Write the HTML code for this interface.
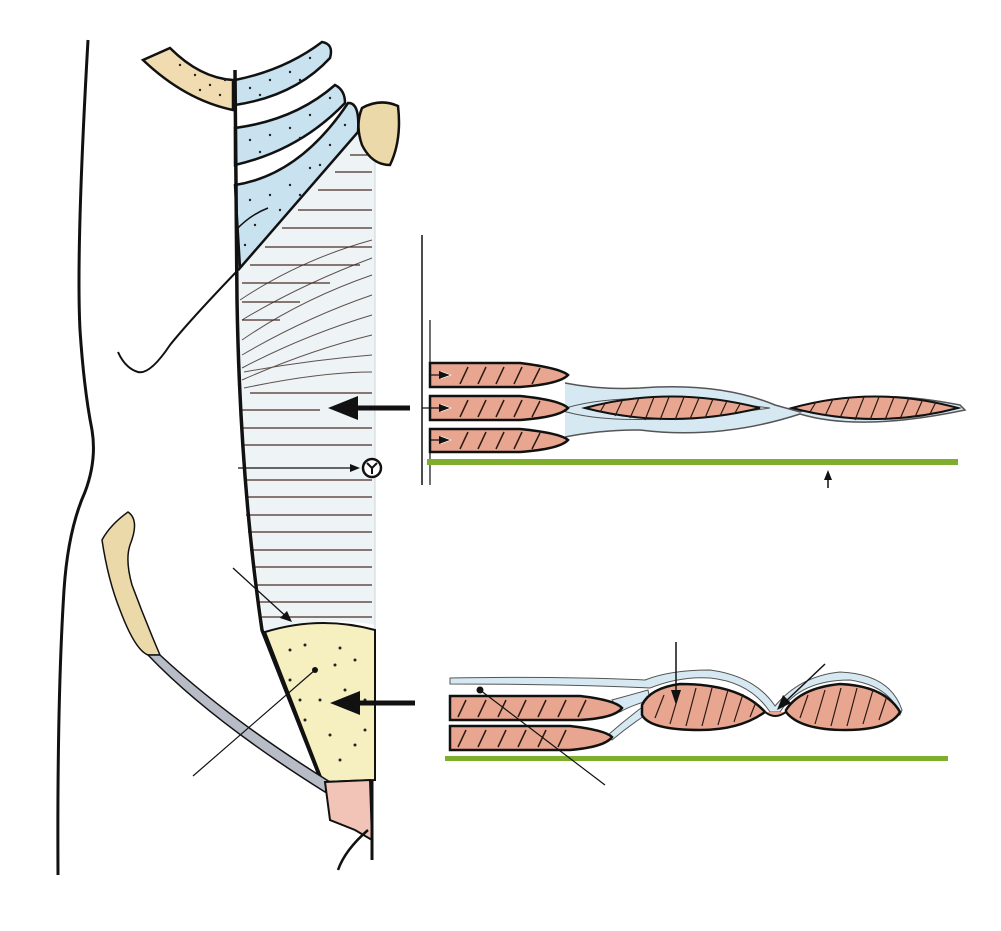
<!DOCTYPE html>
<html><head><meta charset="utf-8"><style>
html,body{margin:0;padding:0;background:#fff;}
svg{display:block;}
</style></head><body>
<svg width="1001" height="931" viewBox="0 0 1001 931" xmlns="http://www.w3.org/2000/svg">
<rect width="1001" height="931" fill="#fff"/>
<!-- body outline -->
<path d="M88,40 Q76,250 80,330 Q84,390 92,430 Q97,460 85,492 Q68,530 64,590 Q57,700 58,875" fill="none" stroke="#111" stroke-width="3"/>
<!-- rectus sheath fill -->
<path d="M237,270 L357,135 L375,140 L375,625 Q320,615 265,632 Q240,470 237,270Z" fill="#eef3f6"/>
<!-- horizontal striations -->
<g stroke="#4a2c24" stroke-width="1.3" fill="none">
<line x1="350" y1="155" x2="372" y2="155"/>
<line x1="335" y1="172" x2="372" y2="172"/>
<line x1="318" y1="190" x2="372" y2="190"/>
<line x1="298" y1="210" x2="372" y2="210"/>
<line x1="282" y1="228" x2="372" y2="228"/>
<line x1="265" y1="247" x2="372" y2="247"/>
<line x1="250" y1="265" x2="360" y2="265"/>
<line x1="242" y1="283" x2="330" y2="283"/>
<line x1="242" y1="302" x2="300" y2="302"/>
<line x1="242" y1="320" x2="280" y2="320"/>
<line x1="250" y1="393" x2="372" y2="393"/>
<line x1="242" y1="410" x2="320" y2="410"/>
<line x1="242" y1="428" x2="372" y2="428"/>
<line x1="242" y1="445" x2="372" y2="445"/>
<line x1="244" y1="480" x2="372" y2="480"/>
<line x1="245" y1="497" x2="372" y2="497"/>
<line x1="246" y1="515" x2="372" y2="515"/>
<line x1="248" y1="532" x2="372" y2="532"/>
<line x1="250" y1="550" x2="372" y2="550"/>
<line x1="252" y1="567" x2="372" y2="567"/>
<line x1="255" y1="585" x2="372" y2="585"/>
<line x1="258" y1="602" x2="372" y2="602"/>
<line x1="262" y1="617" x2="372" y2="617"/>
</g>
<!-- diagonal fibers -->
<g stroke="#3a2a24" stroke-width="1" fill="none" opacity="0.8">
<path d="M240,300 Q300,260 372,240"/>
<path d="M242,320 Q300,285 372,258"/>
<path d="M242,340 Q300,300 372,275"/>
<path d="M242,355 Q305,318 372,295"/>
<path d="M242,368 Q305,335 372,315"/>
<path d="M242,380 Q310,350 372,335"/>
<path d="M244,372 Q310,360 372,355"/>
<path d="M244,388 Q320,372 372,372"/>
</g>
<line x1="375" y1="140" x2="375" y2="780" stroke="#ccd6dc" stroke-width="1"/>
<!-- clavicle tan -->
<path d="M143,60 L170,48 Q200,78 233,80 L233,110 Q185,100 143,60Z" fill="#f0dcb0" stroke="#111" stroke-width="2.5"/>
<!-- costal cartilages blue -->
<path d="M235,80 Q285,70 322,42 Q334,44 330,58 Q295,96 235,105Z" fill="#c8e2ef" stroke="#111" stroke-width="2.5"/>
<path d="M235,128 Q295,120 335,85 Q345,90 345,103 Q300,150 235,165Z" fill="#c8e2ef" stroke="#111" stroke-width="2.5"/>
<path d="M235,185 Q300,175 348,103 Q360,102 358,132 L240,268 Z" fill="#c8e2ef" stroke="#111" stroke-width="2.5"/>
<path d="M236,230 Q250,215 268,208" fill="none" stroke="#111" stroke-width="1.5"/>
<g fill="#222">
<circle cx="180" cy="65" r="1.2"/><circle cx="195" cy="75" r="1.2"/><circle cx="210" cy="85" r="1.2"/><circle cx="220" cy="95" r="1.2"/><circle cx="200" cy="90" r="1.2"/><circle cx="225" cy="80" r="1.2"/>
<circle cx="250" cy="88" r="1.2"/><circle cx="270" cy="80" r="1.2"/><circle cx="290" cy="72" r="1.2"/><circle cx="310" cy="58" r="1.2"/><circle cx="260" cy="95" r="1.2"/><circle cx="300" cy="80" r="1.2"/>
<circle cx="250" cy="140" r="1.2"/><circle cx="270" cy="135" r="1.2"/><circle cx="290" cy="128" r="1.2"/><circle cx="310" cy="115" r="1.2"/><circle cx="330" cy="98" r="1.2"/><circle cx="260" cy="152" r="1.2"/><circle cx="300" cy="138" r="1.2"/>
<circle cx="250" cy="200" r="1.2"/><circle cx="270" cy="195" r="1.2"/><circle cx="290" cy="185" r="1.2"/><circle cx="310" cy="168" r="1.2"/><circle cx="330" cy="145" r="1.2"/><circle cx="345" cy="125" r="1.2"/><circle cx="255" cy="225" r="1.2"/><circle cx="280" cy="210" r="1.2"/><circle cx="300" cy="195" r="1.2"/><circle cx="245" cy="245" r="1.2"/><circle cx="320" cy="165" r="1.2"/>
</g>
<!-- tan knob -->
<path d="M362,108 Q380,98 398,106 Q402,140 390,165 Q372,165 362,145 Q355,125 362,108Z" fill="#ecd9aa" stroke="#111" stroke-width="2.5"/>
<!-- diagonal line + hook -->
<path d="M240,268 Q190,320 170,345 Q150,375 138,372 Q125,368 118,352" fill="none" stroke="#111" stroke-width="2"/>
<!-- midline -->
<path d="M235,70 L237,300 Q240,480 262,630 L323,785" fill="none" stroke="#111" stroke-width="3.5"/>
<!-- yellow region -->
<path d="M265,632 Q320,615 375,630 L375,780 L323,782 Z" fill="#f6f0c0" stroke="#111" stroke-width="2"/>
<g fill="#222">
<circle cx="290" cy="650" r="1.5"/><circle cx="305" cy="645" r="1.5"/><circle cx="340" cy="648" r="1.5"/><circle cx="355" cy="660" r="1.5"/><circle cx="290" cy="680" r="1.5"/><circle cx="345" cy="690" r="1.5"/><circle cx="365" cy="700" r="1.5"/><circle cx="305" cy="720" r="1.5"/><circle cx="330" cy="735" r="1.5"/><circle cx="355" cy="745" r="1.5"/><circle cx="340" cy="760" r="1.5"/><circle cx="320" cy="700" r="1.5"/><circle cx="365" cy="730" r="1.5"/><circle cx="300" cy="700" r="1.5"/><circle cx="335" cy="665" r="1.5"/>
</g>
<!-- iliac bone -->
<path d="M128,512 Q110,525 102,540 Q108,580 120,610 Q135,650 148,655 L160,655 Q145,620 132,585 Q125,560 130,545 Q140,520 128,512Z" fill="#ecd9aa" stroke="#111" stroke-width="1.5"/>
<!-- ligament -->
<path d="M148,655 Q210,720 325,792 L330,782 Q230,720 160,655Z" fill="#b8bcc6" stroke="#111" stroke-width="1.5"/>
<!-- pubic pink -->
<path d="M325,782 L370,780 L372,840 L355,830 L330,820 Z" fill="#f2c4b8" stroke="#111" stroke-width="2"/>
<line x1="372" y1="780" x2="372" y2="860" stroke="#111" stroke-width="3"/>
<path d="M368,830 Q345,850 338,870" fill="none" stroke="#111" stroke-width="2.5"/>
<!-- leaders left -->
<line x1="233" y1="568" x2="290" y2="620" stroke="#111" stroke-width="1.3"/>
<polygon points="292,622 280,618 287,611" fill="#111"/>
<line x1="315" y1="670" x2="193" y2="776" stroke="#111" stroke-width="1.2"/>
<circle cx="315" cy="670" r="3" fill="#111"/>
<!-- big arrows -->
<line x1="410" y1="408" x2="350" y2="408" stroke="#111" stroke-width="5"/>
<polygon points="328,408 358,396 358,420" fill="#111"/>
<line x1="415" y1="703" x2="355" y2="703" stroke="#111" stroke-width="5"/>
<polygon points="330,703 360,691 360,715" fill="#111"/>
<!-- small circle symbol -->
<line x1="238" y1="468" x2="355" y2="468" stroke="#111" stroke-width="1.3"/>
<polygon points="360,468 350,464 350,472" fill="#111"/>
<circle cx="372" cy="468" r="9" fill="#fff" stroke="#111" stroke-width="2.5"/>
<path d="M372,468 L367,463 M372,468 L377,463 M372,468 L372,474" stroke="#111" stroke-width="2"/>
<!-- upper cross section -->
<line x1="422" y1="235" x2="422" y2="485" stroke="#111" stroke-width="1.5"/>
<line x1="430" y1="320" x2="430" y2="375" stroke="#111" stroke-width="1.2"/>
<path d="M565,383 Q600,390 640,388 Q720,382 775,405 Q800,412 800,412 Q860,385 960,405 L965,410 Q860,432 800,414 Q720,440 640,430 Q600,430 565,437" fill="#d6e9f2" stroke="#555" stroke-width="1.5"/>
<path d="M560,410 Q620,388 770,408 Q620,430 560,410Z" fill="#d6e9f2" stroke="#555" stroke-width="1"/>
<path d="M585,408 Q670,385 760,408 Q670,430 585,408Z" fill="#e8a690" stroke="#111" stroke-width="2"/>
<path d="M792,408 Q875,385 958,408 Q875,430 792,408Z" fill="#e8a690" stroke="#111" stroke-width="2"/>
<g stroke="#2a1a14" stroke-width="1.2">
<line x1="600" y1="412" x2="606" y2="402"/><line x1="615" y1="416" x2="623" y2="399"/><line x1="630" y1="418" x2="639" y2="398"/><line x1="645" y1="420" x2="654" y2="397"/><line x1="660" y1="420" x2="669" y2="397"/><line x1="675" y1="420" x2="684" y2="397"/><line x1="690" y1="419" x2="699" y2="398"/><line x1="705" y1="418" x2="713" y2="399"/><line x1="720" y1="416" x2="727" y2="401"/><line x1="735" y1="413" x2="740" y2="404"/>
<line x1="810" y1="412" x2="816" y2="402"/><line x1="825" y1="416" x2="833" y2="399"/><line x1="840" y1="418" x2="849" y2="398"/><line x1="855" y1="420" x2="864" y2="397"/><line x1="870" y1="420" x2="879" y2="397"/><line x1="885" y1="420" x2="894" y2="397"/><line x1="900" y1="419" x2="909" y2="398"/><line x1="915" y1="417" x2="923" y2="399"/><line x1="930" y1="414" x2="936" y2="402"/>
</g>
<g fill="#e8a690" stroke="#111" stroke-width="2.5">
<path d="M430,363 L520,363 Q560,368 568,375 Q560,384 520,387 L430,387Z"/>
<path d="M430,396 L520,396 Q560,400 568,408 Q560,417 520,420 L430,420Z"/>
<path d="M430,429 L520,429 Q560,433 568,440 Q560,449 520,452 L430,452Z"/>
</g>
<g stroke="#2a1a14" stroke-width="1.5">
<line x1="460" y1="384" x2="468" y2="367"/><line x1="478" y1="384" x2="486" y2="367"/><line x1="496" y1="384" x2="504" y2="367"/><line x1="514" y1="384" x2="522" y2="367"/><line x1="532" y1="384" x2="540" y2="368"/>
<line x1="460" y1="417" x2="468" y2="400"/><line x1="478" y1="417" x2="486" y2="400"/><line x1="496" y1="417" x2="504" y2="400"/><line x1="514" y1="417" x2="522" y2="400"/><line x1="532" y1="417" x2="540" y2="401"/>
<line x1="460" y1="449" x2="468" y2="432"/><line x1="478" y1="449" x2="486" y2="432"/><line x1="496" y1="449" x2="504" y2="432"/><line x1="514" y1="449" x2="522" y2="432"/><line x1="532" y1="449" x2="540" y2="433"/>
</g>
<g stroke="#111" stroke-width="1.2" fill="none">
<path d="M430,375 L446,375"/>
<path d="M422,408 L446,408"/>
<path d="M430,485 L430,440 L446,440"/>
</g>
<g fill="#fff" stroke="none">
<polygon points="452,375 441,371 441,379"/>
<polygon points="452,408 441,404 441,412"/>
<polygon points="452,440 441,436 441,444"/>
</g>
<g fill="#111">
<polygon points="452,375 441,371 441,379" transform="translate(-2,0)"/>
<polygon points="452,408 441,404 441,412" transform="translate(-2,0)"/>
<polygon points="452,440 441,436 441,444" transform="translate(-2,0)"/>
</g>
<rect x="427" y="459" width="531" height="6" fill="#7fae2e"/>
<line x1="828" y1="488" x2="828" y2="476" stroke="#111" stroke-width="1.5"/>
<polygon points="828,470 824,480 832,480" fill="#111"/>
<!-- lower cross section -->
<path d="M450,684 Q560,684 650,688 Q680,676 710,678 Q750,682 770,712 L780,712 Q800,680 850,680 Q890,686 900,715 L902,710 Q890,674 840,672 Q800,676 775,706 Q755,676 710,670 Q670,670 645,680 Q560,676 450,678Z" fill="#d6e9f2" stroke="#555" stroke-width="1"/>
<path d="M612,700 Q630,695 648,690 L650,700 Q630,706 620,712Z" fill="#d6e9f2" stroke="#555" stroke-width="1"/>
<path d="M608,735 Q625,720 645,705 L650,712 Q630,725 612,740Z" fill="#d6e9f2" stroke="#555" stroke-width="1"/>
<path d="M642,705 Q650,688 680,684 Q740,684 765,712 Q740,730 700,730 Q650,730 642,715Z" fill="#e8a690" stroke="#111" stroke-width="2.5"/>
<path d="M786,710 Q800,688 840,684 Q885,686 900,712 Q890,730 845,730 Q800,730 786,712Z" fill="#e8a690" stroke="#111" stroke-width="2.5"/>
<path d="M765,712 Q775,720 786,712" fill="#e8a690" stroke="#111" stroke-width="2"/>
<g stroke="#2a1a14" stroke-width="1.2">
<line x1="655" y1="718" x2="664" y2="695"/><line x1="670" y1="724" x2="680" y2="690"/><line x1="686" y1="726" x2="696" y2="688"/><line x1="702" y1="726" x2="712" y2="688"/><line x1="718" y1="725" x2="728" y2="690"/><line x1="734" y1="722" x2="743" y2="694"/><line x1="750" y1="717" x2="756" y2="702"/>
<line x1="800" y1="718" x2="808" y2="695"/><line x1="815" y1="724" x2="825" y2="690"/><line x1="831" y1="726" x2="841" y2="688"/><line x1="847" y1="726" x2="857" y2="688"/><line x1="863" y1="724" x2="873" y2="690"/><line x1="879" y1="720" x2="887" y2="696"/>
</g>
<g fill="#e8a690" stroke="#111" stroke-width="2.5">
<path d="M450,696 L580,696 Q615,700 622,708 Q615,718 580,720 L450,720Z"/>
<path d="M450,726 L570,726 Q605,730 612,737 Q605,747 570,750 L450,750Z"/>
</g>
<g stroke="#2a1a14" stroke-width="1.5">
<line x1="458" y1="717" x2="466" y2="700"/><line x1="478" y1="717" x2="486" y2="700"/><line x1="498" y1="717" x2="506" y2="700"/><line x1="518" y1="717" x2="526" y2="700"/><line x1="538" y1="717" x2="546" y2="700"/><line x1="558" y1="717" x2="566" y2="700"/><line x1="578" y1="717" x2="586" y2="700"/>
<line x1="458" y1="747" x2="466" y2="730"/><line x1="478" y1="747" x2="486" y2="730"/><line x1="498" y1="747" x2="506" y2="730"/><line x1="518" y1="747" x2="526" y2="730"/><line x1="538" y1="747" x2="546" y2="730"/><line x1="558" y1="747" x2="566" y2="730"/>
</g>
<rect x="445" y="756" width="503" height="5" fill="#7fae2e"/>
<line x1="480" y1="690" x2="605" y2="785" stroke="#111" stroke-width="1.2"/>
<circle cx="480" cy="690" r="3.5" fill="#111"/>
<line x1="676" y1="642" x2="676" y2="695" stroke="#111" stroke-width="1.5"/>
<polygon points="676,705 671,690 681,690" fill="#111"/>
<line x1="825" y1="664" x2="785" y2="702" stroke="#111" stroke-width="1.5"/>
<polygon points="777,710 783,695 791,703" fill="#111"/>
</svg>
</body></html>
